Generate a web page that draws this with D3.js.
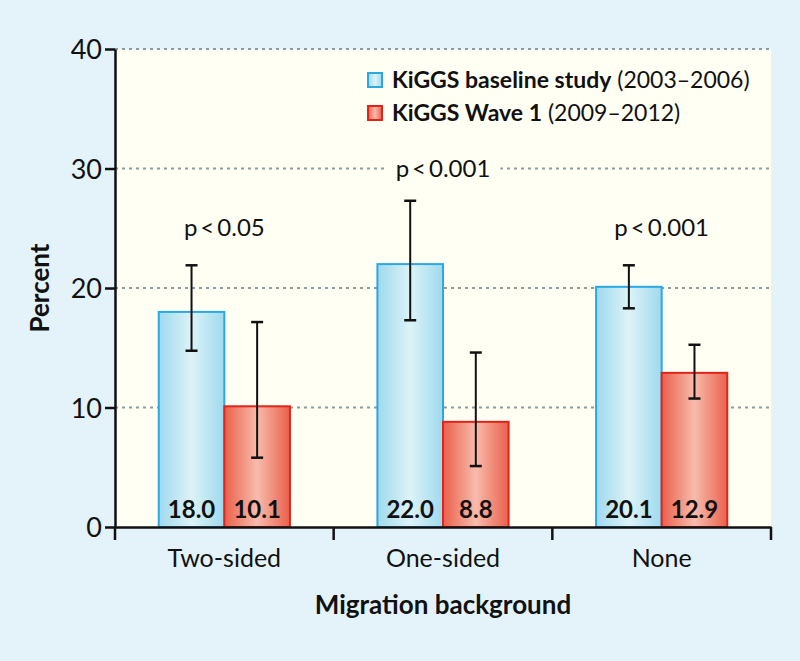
<!DOCTYPE html>
<html><head><meta charset="utf-8">
<script src="https://cdn.jsdelivr.net/npm/d3@7"></script>
<style>body{margin:0;background:#e4f3fa;}svg{display:block;}</style>
</head><body>
<script>
const categories = ["Two-sided", "One-sided", "None"];
const seriesNames = ["KiGGS baseline study", "KiGGS Wave 1"];
const seriesPeriods = ["(2003–2006)", "(2009–2012)"];
const baselineValues = [18.0, 22.0, 20.1];
const baselineLow = [14.75, 17.3, 18.3];
const baselineHigh = [21.9, 27.3, 21.9];
const waveValues = [10.1, 8.8, 12.9];
const waveLow = [5.8, 5.1, 10.75];
const waveHigh = [17.15, 14.6, 15.25];
const pLabels = ["p\u2009<\u20090.05", "p\u2009<\u20090.001", "p\u2009<\u20090.001"];
const pPositions = [25, 30, 25];
const yTicks = [0, 10, 20, 30, 40];

const W = 800, H = 661;
const m = {left: 115, right: 29, top: 49, bottom: 134};
const svg = d3.select("body").append("svg").attr("width", W).attr("height", H);
svg.append("rect").attr("width", W).attr("height", H).attr("fill", "#e4f3fa");

const x = d3.scaleBand().domain(categories).range([m.left, W - m.right]).paddingInner(0.4).paddingOuter(0.2);
const xs = d3.scaleBand().domain([0, 1]).range([0, x.bandwidth()]);
const y = d3.scaleLinear().domain([0, 40]).range([H - m.bottom, m.top]);

const defs = svg.append("defs");
function grad(id, edge, mid) {
  const g = defs.append("linearGradient").attr("id", id).attr("x1", "0%").attr("x2", "100%").attr("y1", "0%").attr("y2", "0%");
  g.append("stop").attr("offset", "0%").attr("stop-color", edge);
  g.append("stop").attr("offset", "50%").attr("stop-color", mid);
  g.append("stop").attr("offset", "100%").attr("stop-color", edge);
}
grad("gBlue", "#9fd9ee", "#dcf3f8");
grad("gRed", "#ea604b", "#f8bbac");

const font = "Lato, 'Open Sans', sans-serif";

// plot background
svg.append("rect").attr("x", m.left).attr("y", y(40)).attr("width", W - m.right - m.left).attr("height", y(0) - y(40)).attr("fill", "#fffff4");

// gridlines
svg.append("g").selectAll("line").data(yTicks.filter(d => d > 0)).join("line")
  .attr("x1", m.left).attr("x2", W - m.right).attr("y1", d => y(d)).attr("y2", d => y(d))
  .attr("stroke", "#8a9c9e").attr("stroke-width", 2).attr("stroke-dasharray", "3,4");

const series = [
  {vals: baselineValues, lo: baselineLow, hi: baselineHigh, fill: "url(#gBlue)", stroke: "#2aa8e2"},
  {vals: waveValues, lo: waveLow, hi: waveHigh, fill: "url(#gRed)", stroke: "#e2231a"}
];

// p labels
const pg = svg.append("g");
categories.forEach((c, i) => {
  const cx = x(c) + x.bandwidth() / 2;
  const t = pg.append("text").attr("x", cx).attr("y", y(pPositions[i]) + 8)
    .attr("text-anchor", "middle").attr("font-family", font).attr("font-size", 24).attr("fill", "#111")
    .text(pLabels[i]);
  if (pPositions[i] === 30) {
    const bb = t.node().getBBox();
    pg.insert("rect", "text").attr("x", bb.x - 10).attr("y", y(30) - 3).attr("width", bb.width + 20).attr("height", 6).attr("fill", "#fffff4");
  }
});

// bars
series.forEach((s, si) => {
  const g = svg.append("g");
  categories.forEach((c, i) => {
    const bx = x(c) + xs(si);
    g.append("rect").attr("x", bx).attr("y", y(s.vals[i])).attr("width", xs.bandwidth()).attr("height", y(0) - y(s.vals[i]))
      .attr("fill", s.fill).attr("stroke", s.stroke).attr("stroke-width", 2);
  });
});
series.forEach((s, si) => {
  const g = svg.append("g");
  categories.forEach((c, i) => {
    const cx = x(c) + xs(si) + xs.bandwidth() / 2;
    g.append("text").attr("x", cx).attr("y", y(0) - 9).attr("text-anchor", "middle")
      .attr("font-family", font).attr("font-weight", "bold").attr("font-size", 24).attr("fill", "#111")
      .text(s.vals[i].toFixed(1));
    g.append("line").attr("x1", cx).attr("x2", cx).attr("y1", y(s.lo[i])).attr("y2", y(s.hi[i])).attr("stroke", "#111").attr("stroke-width", 2);
    [s.lo[i], s.hi[i]].forEach(v => g.append("line").attr("x1", cx - 6).attr("x2", cx + 6).attr("y1", y(v)).attr("y2", y(v)).attr("stroke", "#111").attr("stroke-width", 2.5));
  });
});

// y axis
const yAxis = svg.append("g").attr("transform", `translate(${m.left},0)`)
  .call(d3.axisLeft(y).tickValues(yTicks).tickSize(10).tickPadding(3).tickSizeOuter(0));
yAxis.select(".domain").attr("stroke", "#111").attr("stroke-width", 2.5);
yAxis.selectAll(".tick line").attr("stroke", "#111").attr("stroke-width", 2.5);
yAxis.selectAll(".tick text").attr("font-family", font).attr("font-size", 27).attr("fill", "#111").attr("dy", "0.36em");

// x axis
const xAxis = svg.append("g").attr("transform", `translate(0,${y(0)})`)
  .call(d3.axisBottom(x).tickSize(0).tickPadding(22));
xAxis.select(".domain").attr("stroke", "#111").attr("stroke-width", 2.5);
xAxis.selectAll(".tick text").attr("font-family", font).attr("font-size", 25).attr("fill", "#111");
const boundaries = [m.left, ...categories.slice(1).map(c => x(c) - x.step() * x.paddingInner() / 2), W - m.right];
xAxis.selectAll("line.bnd").data(boundaries).join("line").attr("class", "bnd")
  .attr("x1", d => d).attr("x2", d => d).attr("y1", 0).attr("y2", 13).attr("stroke", "#111").attr("stroke-width", 2.5);

// axis titles
svg.append("text").attr("x", (m.left + W - m.right) / 2).attr("y", 614).attr("text-anchor", "middle")
  .attr("font-family", font).attr("font-weight", "bold").attr("font-size", 26).attr("fill", "#111").text("Migration background");
svg.append("text").attr("transform", `translate(49,${(y(0) + y(40)) / 2}) rotate(-90)`).attr("text-anchor", "middle")
  .attr("font-family", font).attr("font-weight", "bold").attr("font-size", 26).attr("fill", "#111").text("Percent");

// legend
const lg = svg.append("g").attr("transform", "translate(367,72)");
series.forEach((s, si) => {
  const row = lg.append("g").attr("transform", `translate(0,${si * 33})`);
  row.append("rect").attr("x", 1).attr("y", 1).attr("width", 14).attr("height", 14).attr("fill", s.fill).attr("stroke", s.stroke).attr("stroke-width", 2);
  const t = row.append("text").attr("x", 25).attr("y", 16).attr("font-family", font).attr("font-size", 23).attr("fill", "#111");
  t.append("tspan").attr("font-weight", "bold").text(seriesNames[si]);
  t.append("tspan").text(" " + seriesPeriods[si]);
});
</script>
</body></html>
